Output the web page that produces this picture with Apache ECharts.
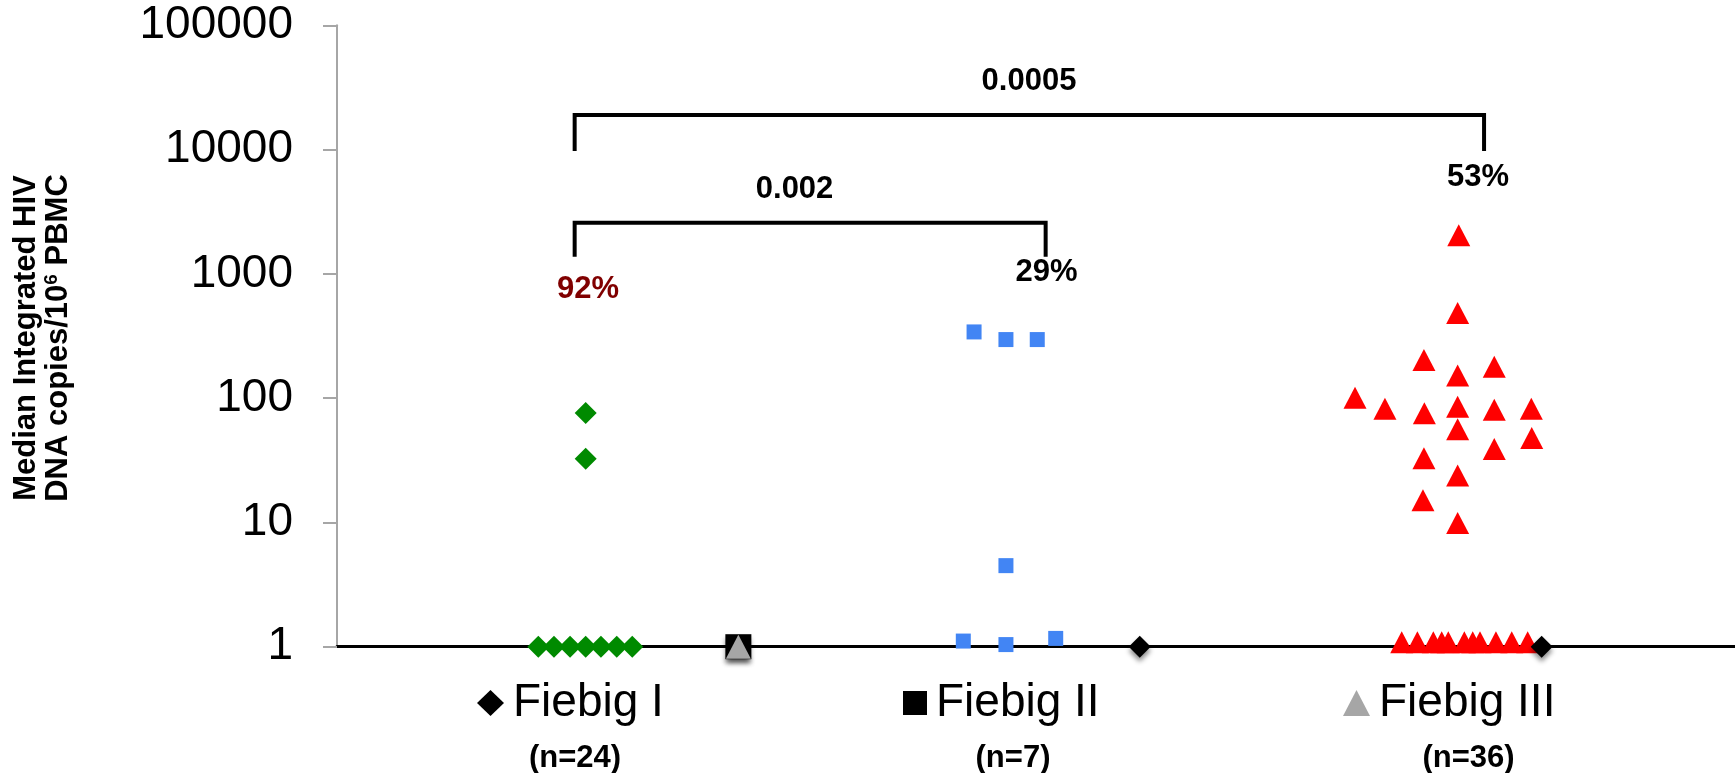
<!DOCTYPE html>
<html>
<head>
<meta charset="utf-8">
<script src="https://cdn.jsdelivr.net/npm/echarts@6/dist/echarts.min.js"></script>
<style>
html,body{margin:0;padding:0;background:#fff;}
#c{width:1735px;height:773px;}
</style>
</head>
<body>
<div id="c"></div>
<script>
// ---------- data ----------
const yTickLabels = ['1', '10', '100', '1000', '10000', '100000'];
const groupLabels = ['Fiebig I', 'Fiebig II', 'Fiebig III'];
const groupN = ['(n=24)', '(n=7)', '(n=36)'];

// Fiebig I (green diamonds)
const fiebigIx = [17.79, 17.79, 14.40, 15.52, 16.67, 17.79, 18.88, 20.01, 21.12];
const fiebigIy = [76, 32.5, 1, 1, 1, 1, 1, 1, 1];
// Fiebig II (blue squares)
const fiebigIIx = [45.57, 47.85, 50.09, 47.85, 44.80, 47.85, 51.41];
const fiebigIIy = [341, 296, 296, 4.49, 1.11, 1.04, 1.166];
// Fiebig III (red triangles)
const fiebigIIIx = [80.24, 80.16, 77.75, 80.16, 82.78, 72.82, 74.96, 77.78, 80.16, 82.78, 85.43, 80.16, 85.46, 82.78, 77.75, 80.16, 77.68, 80.16,
                    76.16, 77.28, 78.42, 79.02, 79.49, 80.64, 81.24, 81.76, 82.90, 84.03, 85.17];
const fiebigIIIy = [2046, 484, 203, 152, 179, 100.5, 82.2, 75.5, 85.3, 80.7, 82.2, 56.3, 47.7, 38.9, 32.8, 23.8, 15.1, 9.9,
                    1.085, 1.085, 1.085, 1.085, 1.085, 1.085, 1.085, 1.085, 1.085, 1.085, 1.085];
// legend-series markers (black / gray) lying on the baseline
const legIx = [57.42, 86.17], legIy = [1, 1];
const legIIx = [28.71], legIIy = [1];
const legIIIx = [28.71], legIIIy = [1];

// comparison brackets and annotations
const pValues = ['0.0005', '0.002'];
const pctLabels = ['92%', '29%', '53%'];
const bracketX = [[17.0, 82.05], [17.0, 50.69]];
const bracketBar = [18970, 2580];
const bracketEnd = [9745, 1374];
const pValueX = [49.5, 32.73], pValueY = [35300, 4775];
const pctX = [17.95, 50.75, 81.62], pctY = [748, 1026, 5960];

// ---------- chart ----------
const FONT = 'Liberation Sans, Arial, sans-serif';
const zip = (xs, ys) => xs.map((x, i) => [x, ys[i]]);
const chart = echarts.init(document.getElementById('c'), null, {renderer: 'canvas'});

const bracketSeries = bracketX.map((bx, i) => ({
  type: 'line', silent: true, symbol: 'none', z: 5,
  lineStyle: {color: '#000', width: 4, cap: 'butt', join: 'miter', opacity: 1},
  data: [[bx[0], bracketEnd[i]], [bx[0], bracketBar[i]], [bx[1], bracketBar[i]], [bx[1], bracketEnd[i]]]
}));

const textSeries = (xs, ys, texts, colors) => ({
  type: 'scatter', silent: true, symbolSize: 1, z: 6,
  itemStyle: {color: 'rgba(0,0,0,0)', opacity: 1},
  data: xs.map((x, i) => ({value: [x, ys[i]], label: {formatter: texts[i], color: colors[i]}})),
  label: {show: true, position: 'inside', fontFamily: FONT, fontWeight: 'bold', fontSize: 31, color: '#000', opacity: 1}
});

const shadow = {shadowColor: 'rgba(0,0,0,0.45)', shadowBlur: 5, shadowOffsetY: 4};

const legendBase = {
  orient: 'horizontal', padding: 0, top: 680, itemWidth: 27, itemHeight: 26, selectedMode: false,
  textStyle: {fontFamily: FONT, fontSize: 46, color: '#000', padding: [0, 0, 0, 4]},
  itemStyle: {shadowBlur: 0, shadowOffsetY: 0, shadowColor: 'transparent', opacity: 1}
};

chart.setOption({
  animation: false,
  backgroundColor: '#fff',
  grid: {left: 337, right: 0, top: 25.3, bottom: 126.3, containLabel: false},
  xAxis: {
    type: 'value', min: 0, max: 100,
    axisLine: {show: true, lineStyle: {color: '#000', width: 3}},
    axisTick: {show: false}, axisLabel: {show: false}, splitLine: {show: false}
  },
  yAxis: {
    type: 'log', logBase: 10, min: 1, max: 100000,
    axisLine: {show: true, lineStyle: {color: '#a6a6a6', width: 2}},
    axisTick: {show: true, length: 14, inside: false, lineStyle: {color: '#a6a6a6', width: 2}},
    minorTick: {show: false},
    splitLine: {show: false},
    axisLabel: {
      fontFamily: FONT, fontSize: 46, color: '#000', margin: 44,
      formatter: v => yTickLabels[Math.round(Math.log10(v))]
    }
  },
  legend: [
    Object.assign({}, legendBase, {left: 477, data: [groupLabels[0]]}),
    Object.assign({}, legendBase, {left: 903, itemWidth: 24, itemHeight: 24, data: [groupLabels[1]]}),
    Object.assign({}, legendBase, {left: 1343, data: [groupLabels[2]]})
  ],
  series: [
    {name: 'Fiebig I data', type: 'scatter', symbol: 'diamond', symbolSize: [22, 22], itemStyle: {color: '#008a00', opacity: 1}, data: zip(fiebigIx, fiebigIy), z: 3},
    {name: 'Fiebig II data', type: 'scatter', symbol: 'rect', symbolSize: [15, 15], itemStyle: {color: '#4285f4', opacity: 1}, data: zip(fiebigIIx, fiebigIIy), z: 3},
    {name: 'Fiebig III data', type: 'scatter', symbol: 'triangle', symbolSize: [23, 22], itemStyle: {color: '#ff0000', opacity: 1}, data: zip(fiebigIIIx, fiebigIIIy), z: 3},
    {name: groupLabels[0], type: 'scatter', symbol: 'diamond', symbolSize: [22, 22], itemStyle: Object.assign({color: '#000', opacity: 1}, shadow), data: zip(legIx, legIy), z: 4},
    {name: groupLabels[1], type: 'scatter', symbol: 'rect', symbolSize: [26, 25], itemStyle: Object.assign({color: '#000', opacity: 1}, shadow), data: zip(legIIx, legIIy), z: 4},
    {name: groupLabels[2], type: 'scatter', symbol: 'triangle', symbolSize: [25, 24], itemStyle: Object.assign({color: '#a6a6a6', opacity: 1}, shadow), data: zip(legIIIx, legIIIy), z: 4},
    ...bracketSeries,
    textSeries(pValueX, pValueY, pValues, ['#000', '#000']),
    textSeries(pctX, pctY, pctLabels, ['#800000', '#000', '#000'])
  ],
  graphic: [
    {
      type: 'text', x: 42, y: 338, rotation: Math.PI / 2, silent: true,
      style: {
        text: '{a|Median Integrated HIV}\n{a|DNA copies/10}{s|6}{a| PBMC}',
        align: 'center', verticalAlign: 'middle',
        rich: {
          a: {fontFamily: FONT, fontSize: 31, fontWeight: 'bold', lineHeight: 32, fill: '#000'},
          s: {fontFamily: FONT, fontSize: 19, fontWeight: 'bold', lineHeight: 22, verticalAlign: 'top', fill: '#000'}
        }
      }
    },
    ...groupN.map((t, i) => ({
      type: 'text', x: [575, 1013, 1468.5][i], y: 758, silent: true,
      style: {text: t, fontFamily: FONT, fontSize: 31, fontWeight: 'bold', fill: '#000', align: 'center', verticalAlign: 'middle'}
    }))
  ]
});
</script>
</body>
</html>
